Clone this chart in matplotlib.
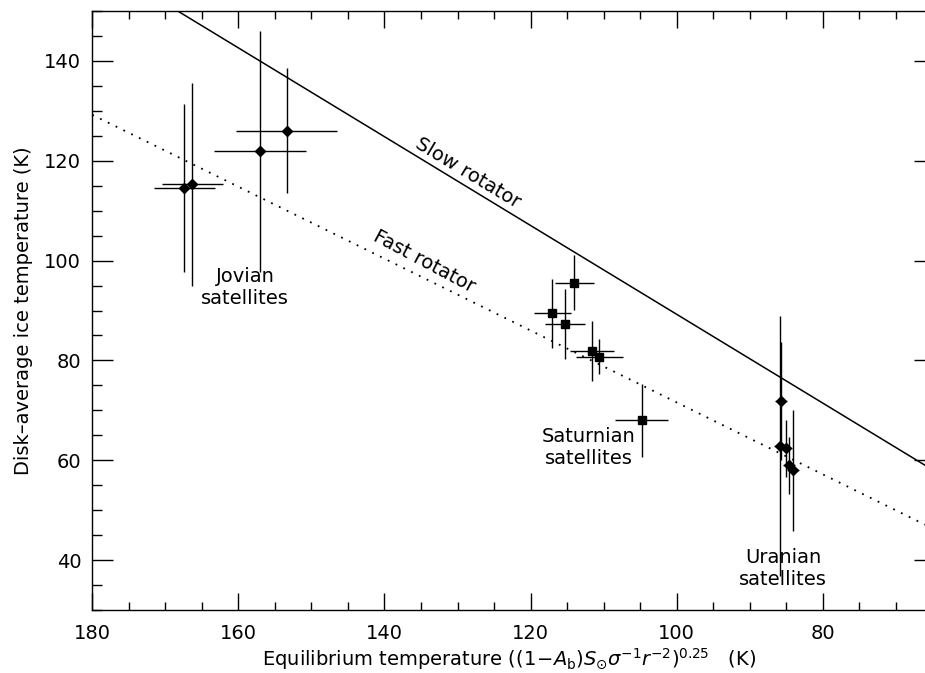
import matplotlib
matplotlib.use("Agg")
import matplotlib.pyplot as plt
from matplotlib.ticker import MultipleLocator

# Jovian satellites (diamonds)
jov_teq = [167.4, 166.3, 157.1, 153.4]
jov_teq_err = [4.2, 4.2, 6.3, 6.9]
jov_tice = [114.6, 115.3, 121.9, 126.0]
jov_tice_err = [16.8, 20.3, 24.1, 12.5]

# Saturnian satellites (squares)
sat_teq = [114.0, 117.0, 115.3, 111.6, 110.6, 104.8]
sat_teq_err = [2.7, 2.5, 2.7, 3.0, 3.2, 3.6]
sat_tice = [95.6, 89.4, 87.3, 81.9, 80.7, 68.0]
sat_tice_err = [5.5, 6.9, 7.0, 6.0, 3.5, 7.3]

# Uranian satellites (diamonds)
ura_teq = [85.7, 85.9, 85.0, 84.6, 84.1]
ura_teq_err = [0.8, 0.8, 0.8, 0.8, 0.8]
ura_tice = [71.9, 62.8, 62.4, 59.0, 58.0]
ura_tice_err = [11.8, 26.0, 5.7, 5.7, 12.1]

# Model curves: slow and fast rotator
model_teq = [180.0, 66.0]
slow_rotator = [160.4, 59.0]
fast_rotator = [129.2, 47.1]

x_ticks = [180, 160, 140, 120, 100, 80]
y_ticks = [40, 60, 80, 100, 120, 140]

plt.rcParams['font.family'] = ['DejaVu Sans']
plt.rcParams['mathtext.fontset'] = 'dejavusans'

fig = plt.figure(figsize=(9.25, 6.73), dpi=100)
ax = fig.add_axes([92.3 / 925, 1 - 610 / 673, 832.7 / 925, (610 - 11) / 673])

ax.plot(model_teq, slow_rotator, color='black', lw=1.1, zorder=2)
ax.plot(model_teq, fast_rotator, color='black', lw=1.3,
        linestyle=(0, (1.0, 3.8)), zorder=2)

ebkw = dict(ecolor='black', elinewidth=1.0, capsize=0, linestyle='none',
            mfc='black', mec='black', zorder=3)
ax.errorbar(jov_teq, jov_tice, xerr=jov_teq_err, yerr=jov_tice_err,
            marker='D', markersize=5.6, **ebkw)
ax.errorbar(sat_teq, sat_tice, xerr=sat_teq_err, yerr=sat_tice_err,
            marker='s', markersize=5.3, **ebkw)
ax.errorbar(ura_teq, ura_tice, xerr=ura_teq_err, yerr=ura_tice_err,
            marker='D', markersize=5.3, **ebkw)

ax.set_xlim(180, 66)
ax.set_ylim(30, 150)

ax.set_xticks(x_ticks)
ax.set_yticks(y_ticks)
ax.xaxis.set_minor_locator(MultipleLocator(5))
ax.yaxis.set_minor_locator(MultipleLocator(5))
ax.tick_params(axis='x', which='both', direction='in', top=True, bottom=True,
               labelsize=14, pad=10)
ax.tick_params(axis='y', which='both', direction='in', left=True, right=False,
               labelsize=14, pad=8)
ax.tick_params(which='major', length=12, width=1.0)
ax.tick_params(which='minor', length=6, width=1.0)
ax.tick_params(axis='y', which='major', length=15)
ax.tick_params(axis='y', which='minor', length=7)

# right-hand major ticks only
ax2 = ax.twinx()
ax2.set_ylim(ax.get_ylim())
ax2.set_yticks(y_ticks)
ax2.tick_params(axis='y', which='major', direction='in', length=8, width=1.0,
                labelright=False)
for sp in ax2.spines.values():
    sp.set_visible(False)

ax.spines['right'].set_visible(False)
for s in ['left', 'bottom', 'top']:
    ax.spines[s].set_linewidth(1.0)

ax.set_xlabel(r'Equilibrium temperature $((1\!-\!A_{\rm b})S_{\odot}\sigma^{-1}r^{-2})^{0.25}$   (K)',
              fontsize=14, labelpad=2)
ax.set_ylabel('Disk\u2013average ice temperature (K)', fontsize=14, labelpad=8)

ax.text(159.1, 94.7, 'Jovian\nsatellites', fontsize=14, ha='center',
        va='center', linespacing=1.2)
ax.text(112.0, 62.6, 'Saturnian\nsatellites', fontsize=14, ha='center',
        va='center', linespacing=1.2)
ax.text(85.4, 38.4, 'Uranian\nsatellites', fontsize=14, ha='center',
        va='center', linespacing=1.2)

ax.text(128.6, 117.5, 'Slow rotator', fontsize=14, ha='center', va='center',
        rotation=-31, rotation_mode='anchor')
ax.text(134.5, 99.9, 'Fast rotator', fontsize=14, ha='center', va='center',
        rotation=-28, rotation_mode='anchor')

fig.savefig('out.png', dpi=100)
